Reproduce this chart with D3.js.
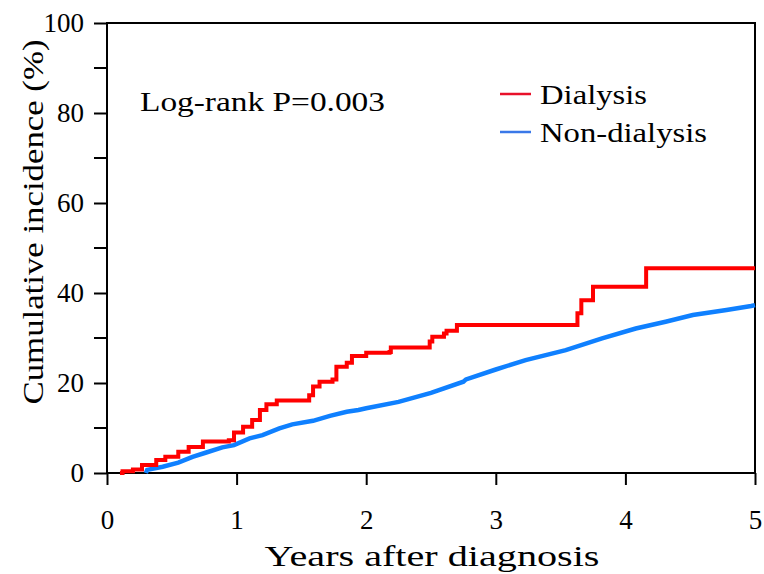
<!DOCTYPE html>
<html><head><meta charset="utf-8">
<script src="https://cdn.jsdelivr.net/npm/d3@7"></script>
<style>body{margin:0;background:#fff}svg{display:block}text{font-family:"Liberation Serif","Times New Roman",serif;fill:#000}</style>
</head><body>
<svg id="c" width="764" height="574"></svg>
<script>
// Data (years, cumulative incidence %)
const dialysisT = [0.1,0.12,0.2,0.27,0.38,0.45,0.55,0.63,0.74,0.94,0.98,1.05,1.12,1.18,1.23,1.31,1.49,1.56,1.59,1.64,1.74,1.77,1.85,1.89,2.0,2.18,2.19,2.46,2.49,2.51,2.6,2.62,2.7,3.62,3.63,3.66,3.73,3.75,4.16,5.0];
const dialysisV = [0,0.4,0.8,1.8,2.9,3.6,4.7,5.8,7.0,7.3,9.0,10.3,11.8,14.0,15.3,16.1,16.1,17.3,19.2,20.3,20.8,23.6,24.5,26.0,26.7,26.9,27.9,27.9,29.2,30.3,31.0,31.6,32.9,32.9,35.5,38.4,38.4,41.4,45.5,45.5];
const nonDialysisT = [0.3,0.31,0.43,0.55,0.66,0.76,0.89,0.98,1.1,1.2,1.33,1.43,1.59,1.72,1.85,1.94,2.0,2.25,2.5,2.75,2.77,3.0,3.23,3.54,3.82,4.08,4.31,4.52,4.78,4.97,5.0];
const nonDialysisV = [0,0.7,1.4,2.3,3.6,4.5,5.7,6.2,7.7,8.4,9.9,10.8,11.6,12.7,13.6,14.0,14.4,15.8,17.8,20.3,20.8,23.0,25.1,27.3,29.9,32.1,33.6,35.1,36.2,37.1,37.3];
const xTicks = [0,1,2,3,4,5];
const yTicks = [0,20,40,60,80,100];
const yMinor = [10,30,50,70,90];
const seriesNames = ["Dialysis","Non-dialysis"];
const pText = "Log-rank P=0.003";

const svg = d3.select("#c");
const L=107, R=755, T=23, B=473;
const x = d3.scaleLinear().domain([0,5]).range([L,R]);
const y = d3.scaleLinear().domain([0,100]).range([B,T]);

// frame
svg.append("rect").attr("x",L).attr("y",T).attr("width",R-L).attr("height",B-T)
  .attr("fill","none").attr("stroke","#000").attr("stroke-width",2);

// y axis
const ya = svg.append("g").attr("transform",`translate(${L},0)`)
  .call(d3.axisLeft(y).tickValues(yTicks).tickSize(13).tickPadding(10).tickFormat(d3.format("d")));
ya.select(".domain").remove();
ya.selectAll("line").attr("stroke","#000").attr("stroke-width",2);
ya.selectAll("text").style("font-size","27px");
svg.append("g").selectAll("line").data(yMinor).join("line")
  .attr("x1",L-13).attr("x2",L).attr("y1",d=>y(d)).attr("y2",d=>y(d))
  .attr("stroke","#000").attr("stroke-width",2);

// x axis
const xa = svg.append("g").attr("transform",`translate(0,${B})`)
  .call(d3.axisBottom(x).tickValues(xTicks).tickSize(12).tickPadding(25).tickFormat(d3.format("d")));
xa.select(".domain").remove();
xa.selectAll("line").attr("stroke","#000").attr("stroke-width",2);
xa.selectAll("text").style("font-size","27px");

// titles
svg.append("text").attr("x",432).attr("y",566).attr("text-anchor","middle")
  .attr("textLength",335).attr("lengthAdjust","spacingAndGlyphs")
  .style("font-size","30px").text("Years after diagnosis");
svg.append("text").attr("transform","translate(43,222) rotate(-90)").attr("text-anchor","middle")
  .attr("textLength",365).attr("lengthAdjust","spacingAndGlyphs")
  .style("font-size","30px").text("Cumulative incidence (%)");

// curves
const red = dialysisT.map((t,i)=>[t,dialysisV[i]]);
const blue = nonDialysisT.map((t,i)=>[t,nonDialysisV[i]]);
svg.append("path").datum(blue).attr("fill","none").attr("stroke","#0F80FF").attr("stroke-width",4.5)
  .attr("d",d3.line().x(d=>x(d[0])).y(d=>y(d[1])).curve(d3.curveLinear));
svg.append("path").datum(red).attr("fill","none").attr("stroke","#FF0000").attr("stroke-width",4)
  .attr("d",d3.line().x(d=>x(d[0])).y(d=>y(d[1])).curve(d3.curveStepAfter));

// annotation
svg.append("text").attr("x",140).attr("y",111)
  .attr("textLength",245).attr("lengthAdjust","spacingAndGlyphs")
  .style("font-size","28px").text(pText);

// legend
const legColors=["#E8102A","#3A78E8"];
const legWidths=[107,167];
const lg = svg.append("g");
seriesNames.forEach((n,i)=>{
  const yy = 94 + i*38;
  lg.append("line").attr("x1",500).attr("x2",531).attr("y1",yy).attr("y2",yy)
    .attr("stroke",legColors[i]).attr("stroke-width",2.5);
  lg.append("text").attr("x",540).attr("y",yy+10)
    .attr("textLength",legWidths[i]).attr("lengthAdjust","spacingAndGlyphs")
    .style("font-size","28px").text(n);
});
</script>
</body></html>
